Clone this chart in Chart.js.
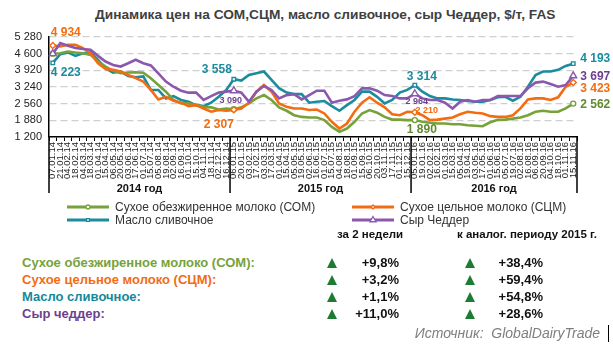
<!DOCTYPE html>
<html>
<head>
<meta charset="utf-8">
<script src="https://cdn.jsdelivr.net/npm/chart.js@4.4.0/dist/chart.umd.min.js"></script>
<style>
  body { margin: 0; background: #fff; font-family: "Liberation Sans", Arial, sans-serif; }
  #wrap { position: relative; width: 613px; height: 345px; overflow: hidden; }
  #box { position: absolute; left: 0; top: 0; width: 613px; height: 230px; }
  .t { position: absolute; white-space: nowrap; line-height: 1; }
  .name { left: 22px; font-size: 13px; font-weight: bold; }
  .val { font-size: 13px; font-weight: bold; color: #111; text-align: right; }
  .up { position: absolute; width: 0; height: 0; border-left: 5px solid transparent; border-right: 5px solid transparent; border-bottom: 10px solid #1e7b34; }
  .hd { top: 229px; font-size: 11.5px; font-weight: bold; color: #111; }
</style>
</head>
<body>
<div id="wrap">
  <div class="t" style="left:95px;top:8px;font-size:13.7px;font-weight:bold;color:#404040;">Динамика цен на СОМ,СЦМ, масло сливочное, сыр Чеддер, $/т, FAS</div>
  <div id="box"><canvas id="main-chart"></canvas></div>

  <div class="t hd" style="left:337px;">за 2 недели</div>
  <div class="t hd" style="left:457px;">к аналог. периоду 2015 г.</div>
  <div id="rows"></div>
  <div class="t" style="right:13px;top:326px;font-size:14px;font-style:italic;color:#7f7f7f;">Источник:&nbsp; GlobalDairyTrade</div>
  <div style="position:absolute;left:608px;top:325px;width:1px;height:17px;background:#000;"></div>
</div>

<script>
// auction dates (GDT, every 2 weeks)
let labels = [
    '07.01.14', '21.01.14', '04.02.14', '18.02.14', '04.03.14', '18.03.14', '01.04.14', '15.04.14',
    '06.05.14', '20.05.14', '03.06.14', '17.06.14', '01.07.14', '15.07.14', '05.08.14', '19.08.14',
    '02.09.14', '16.09.14', '01.10.14', '15.10.14', '04.11.14', '18.11.14', '02.12.14', '16.12.14',
    '06.01.15', '20.01.15', '03.02.15', '17.02.15', '03.03.15', '17.03.15', '01.04.15', '15.04.15',
    '05.05.15', '19.05.15', '02.06.15', '16.06.15', '01.07.15', '15.07.15', '04.08.15', '18.08.15',
    '01.09.15', '15.09.15', '06.10.15', '20.10.15', '03.11.15', '17.11.15', '01.12.15', '15.12.15',
    '05.01.16', '19.01.16', '02.02.16', '16.02.16', '01.03.16', '15.03.16', '05.04.16', '19.04.16',
    '03.05.16', '17.05.16', '01.06.16', '15.06.16', '05.07.16', '19.07.16', '02.08.16', '16.08.16',
    '06.09.16', '20.09.16', '04.10.16', '18.10.16', '01.11.16', '15.11.16'
];
let years = ['2014 год', '2015 год', '2016 год'];
let yearSuffix = ['14', '15', '16'];

let seriesNames = ['Сухое обезжиренное молоко (СОМ)', 'Сухое цельное молоко (СЦМ)', 'Масло сливочное', 'Сыр Чеддер'];

let som = [
    4600, 4620, 4690, 4650, 4620, 4550, 4280, 4075, 3900, 3800, 3830, 3840, 3820, 3600, 3320, 3050,
    2710, 2570, 2570, 2500, 2430, 2410, 2320, 2365,
    2330, 2410, 2570, 2775, 2910, 2710, 2410, 2270, 2090, 2020, 1995, 1995, 1890, 1610, 1410, 1545,
    1820, 2160, 2300, 2190, 2020, 1910, 1910, 1890,
    1890, 1820, 1780, 1750, 1750, 1720, 1720, 1680, 1660, 1640, 1800, 1900, 1910, 1950, 1995, 2090,
    2230, 2270, 2230, 2230, 2365, 2562
];
let scm = [
    4934, 4900, 4960, 4960, 4830, 4620, 4210, 3970, 3940, 3870, 3730, 3600, 3460, 3120, 2730, 2840,
    2680, 2600, 2460, 2500, 2365, 2230, 2300, 2270,
    2307, 2365, 2600, 3050, 3320, 3050, 2570, 2430, 2365, 2365, 2300, 2320, 2160, 1820, 1545, 1750,
    2230, 2600, 2820, 2600, 2410, 2130, 2090, 2230,
    2210, 2090, 1890, 1910, 1950, 1995, 2130, 2230, 2190, 2160, 2050, 2020, 2020, 2090, 2365, 2730,
    2775, 2775, 2710, 2820, 3250, 3423
];
let butter = [
    4223, 4580, 4650, 4510, 4620, 4650, 4350, 4010, 3830, 3870, 3690, 3640, 3670, 3120, 3120, 2775,
    2870, 2710, 2640, 2500, 2460, 2600, 2840, 3120,
    3558, 3500, 3730, 3800, 3870, 3530, 3190, 3010, 2950, 2950, 2600, 2640, 2670, 2460, 2270, 2500,
    2710, 3050, 3050, 2840, 2570, 2710, 3010, 3120,
    3314, 3050, 2870, 2775, 2775, 2730, 2710, 2670, 2640, 2640, 2710, 2820, 2840, 2680, 2840, 3250,
    3730, 3870, 3870, 3940, 4100, 4193
];
let cheddar = [
    4600, 5030, 4920, 4830, 4790, 4760, 4510, 4280, 4140, 4075, 4210, 4350, 4210, 4120, 3800, 3460,
    3250, 3090, 3010, 3010, 2710, 2870, 3010, 3050,
    3090, 3010, 2640, 3050, 3280, 3120, 2775, 2910, 2950, 2735, 2910, 3090, 3090, 2600, 2680, 2735,
    2870, 3185, 3185, 3090, 2910, 2870, 2775, 2775,
    2964, 2775, 2710, 2710, 2600, 2365, 2640, 2710, 2640, 2710, 2710, 2870, 2870, 2870, 2870, 3190,
    3420, 3460, 3360, 3250, 3320, 3697
];

// change in % : for 2 weeks / vs same period 2015
let change2w = ['+9,8%', '+3,2%', '+1,1%', '+11,0%'];
let changeYoY = ['+38,4%', '+59,4%', '+54,8%', '+28,6%'];
let tableNames = ['Сухое обезжиренное молоко (СОМ):', 'Сухое цельное молоко (СЦМ):', 'Масло сливочное:', 'Сыр чеддер:'];

let colors = ['#77a23b', '#f36c12', '#1a8c9e', '#8c58ad'];
let tagColors = ['#5f8a2e', '#f36c12', '#1a8c9e', '#6d3f8e'];
let nameColors = ['#77a23b', '#f36c12', '#16889b', '#6f3f8f'];
let pointStyles = ['circle', 'rectRot', 'rect', 'triangle'];
let pointSizes = [2.5, 3, 2.5, 4];

function fmt(v) {
    return String(v).replace(/\B(?=(\d{3})+(?!\d))/g, ' ');
}

// year start indexes + last point get markers
let marks = yearSuffix.map(function (s) {
    return labels.findIndex(function (l) { return l.slice(-2) === s; });
});
marks.push(labels.length - 1);

// rows of the table below the chart
let $rows = '';
tableNames.forEach(function (n, k) {
    let top = 256 + k * 17;
    $rows += '<div class="t name" style="top:' + top + 'px;color:' + nameColors[k] + '">' + n + '</div>' +
        '<div class="up" style="left:327px;top:' + (top + 2) + 'px"></div>' +
        '<div class="t val" style="right:214px;top:' + top + 'px">' + change2w[k] + '</div>' +
        '<div class="up" style="left:465px;top:' + (top + 2) + 'px"></div>' +
        '<div class="t val" style="right:70px;top:' + top + 'px">' + changeYoY[k] + '</div>';
});
document.getElementById('rows').innerHTML = $rows;

// value tags: dataset, point index, offset from point
let tags = [
    {ds: 1, i: 0, dx: 13, dy: -13, size: 12},
    {ds: 2, i: 0, dx: 13, dy: 10, size: 12},
    {ds: 2, i: 24, dx: -17, dy: -10, size: 12},
    {ds: 3, i: 24, dx: -3, dy: 10, size: 9},
    {ds: 1, i: 24, dx: -15, dy: 15, size: 12},
    {ds: 2, i: 48, dx: 7, dy: -8, size: 12},
    {ds: 3, i: 48, dx: 2, dy: 8, size: 9},
    {ds: 1, i: 48, dx: 12, dy: -2, size: 9},
    {ds: 0, i: 48, dx: 7, dy: 10, size: 12},
    {ds: 2, i: 69, dx: 7, dy: -5, size: 12, left: true},
    {ds: 3, i: 69, dx: 7, dy: 1, size: 12, left: true},
    {ds: 1, i: 69, dx: 7, dy: 6, size: 12, left: true},
    {ds: 0, i: 69, dx: 7, dy: 1, size: 12, left: true}
];

let decor = {
    id: 'decor',
    afterDraw(chart) {
        let ctx = chart.ctx;
        let area = chart.chartArea;
        let x = chart.scales.x;
        let half = (x.getPixelForValue(1) - x.getPixelForValue(0)) / 2;

        ctx.save();
        // year separators and captions
        ctx.strokeStyle = '#000';
        ctx.lineWidth = 1.5;
        ctx.fillStyle = '#111';
        ctx.font = 'bold 11px "Liberation Sans Narrow", "Liberation Sans", Arial';
        ctx.textAlign = 'center';
        ctx.textBaseline = 'middle';
        yearSuffix.forEach(function (s, k) {
            let first = labels.findIndex(function (l) { return l.slice(-2) === s; });
            let last = labels.length - 1 - labels.slice().reverse().findIndex(function (l) { return l.slice(-2) === s; });
            let x0 = x.getPixelForValue(first) - half;
            let x1 = x.getPixelForValue(last) + half;
            ctx.beginPath();
            ctx.moveTo(x0, area.bottom);
            ctx.lineTo(x0, 193);
            if (k === yearSuffix.length - 1) {
                ctx.moveTo(x1, area.bottom);
                ctx.lineTo(x1, 193);
            }
            ctx.stroke();
            ctx.fillText(years[k], (x0 + x1) / 2, 189);
        });

        // value tags
        tags.forEach(function (t) {
            let p = chart.getDatasetMeta(t.ds).data[t.i];
            let v = chart.data.datasets[t.ds].data[t.i];
            ctx.fillStyle = tagColors[t.ds];
            ctx.font = 'bold ' + t.size + 'px "Liberation Sans", Arial';
            ctx.textAlign = t.left ? 'left' : 'center';
            ctx.fillText(fmt(v), p.x + t.dx, p.y + t.dy);
        });

        // legend, two columns
        let spots = [[67, 207], [352, 207], [67, 220], [352, 220]];
        ctx.font = '12px "Liberation Sans", Arial';
        ctx.textAlign = 'left';
        seriesNames.forEach(function (n, k) {
            let lx = spots[k][0], ly = spots[k][1];
            ctx.strokeStyle = colors[k];
            ctx.lineWidth = 3;
            ctx.beginPath();
            ctx.moveTo(lx, ly);
            ctx.lineTo(lx + 42, ly);
            ctx.stroke();
            ctx.fillStyle = '#fff';
            ctx.lineWidth = 1.3;
            Chart.helpers.drawPoint(ctx, {pointStyle: pointStyles[k], radius: k === 3 ? 3.5 : 2, rotation: 0, borderWidth: 1.3}, lx + 21, ly);
            ctx.fillStyle = '#333';
            ctx.fillText(n, lx + 48, ly + 1);
        });
        ctx.restore();
    }
};

let datasets = [som, scm, butter, cheddar].map(function (d, k) {
    return {
        label: seriesNames[k],
        data: d,
        borderColor: colors[k],
        borderWidth: 2.6,
        tension: 0,
        fill: false,
        pointStyle: pointStyles[k],
        pointRadius: function (c) { return marks.includes(c.dataIndex) ? pointSizes[k] : 0; },
        pointBackgroundColor: '#fff',
        pointBorderColor: colors[k],
        pointBorderWidth: 1.4,
        order: [2, 1, 3, 0][k]
    };
});

let myChart = new Chart(document.getElementById('main-chart'), {
    type: 'line',
    data: {labels: labels, datasets: datasets},
    plugins: [decor],
    options: {
        responsive: true,
        maintainAspectRatio: false,
        animation: false,
        events: [],
        layout: {padding: {top: 37, right: 36, left: 0, bottom: 0}},
        plugins: {legend: {display: false}, tooltip: {enabled: false}},
        scales: {
            x: {
                offset: true,
                grid: {display: true, offset: true, drawOnChartArea: false, drawTicks: true, tickLength: 4, color: '#000', lineWidth: 1},
                border: {display: true, color: '#000', width: 1.5},
                ticks: {autoSkip: false, minRotation: 90, maxRotation: 90, padding: 1, color: '#222',
                    font: {size: 9.5, family: '"Liberation Sans", Arial'}},
                afterFit(s) { s.height = 93; s.paddingLeft = 0; s.paddingRight = 0; }
            },
            y: {
                min: 1200,
                max: 5280,
                grid: {drawTicks: false, lineWidth: 1.2,
                    color: function (c) { return c.tick && c.tick.value === 1200 ? 'rgba(0,0,0,0)' : '#cfcfcf'; }},
                border: {display: true, color: '#000', width: 1.5, dash: [7, 4]},
                ticks: {stepSize: 680, padding: 7, color: '#222', font: {size: 11, family: '"Liberation Sans", Arial'},
                    callback: function (v) { return fmt(v); }},
                afterFit(s) { s.width = 49; s.paddingTop = 0; s.paddingBottom = 0; }
            }
        }
    }
});
</script>
</body>
</html>
